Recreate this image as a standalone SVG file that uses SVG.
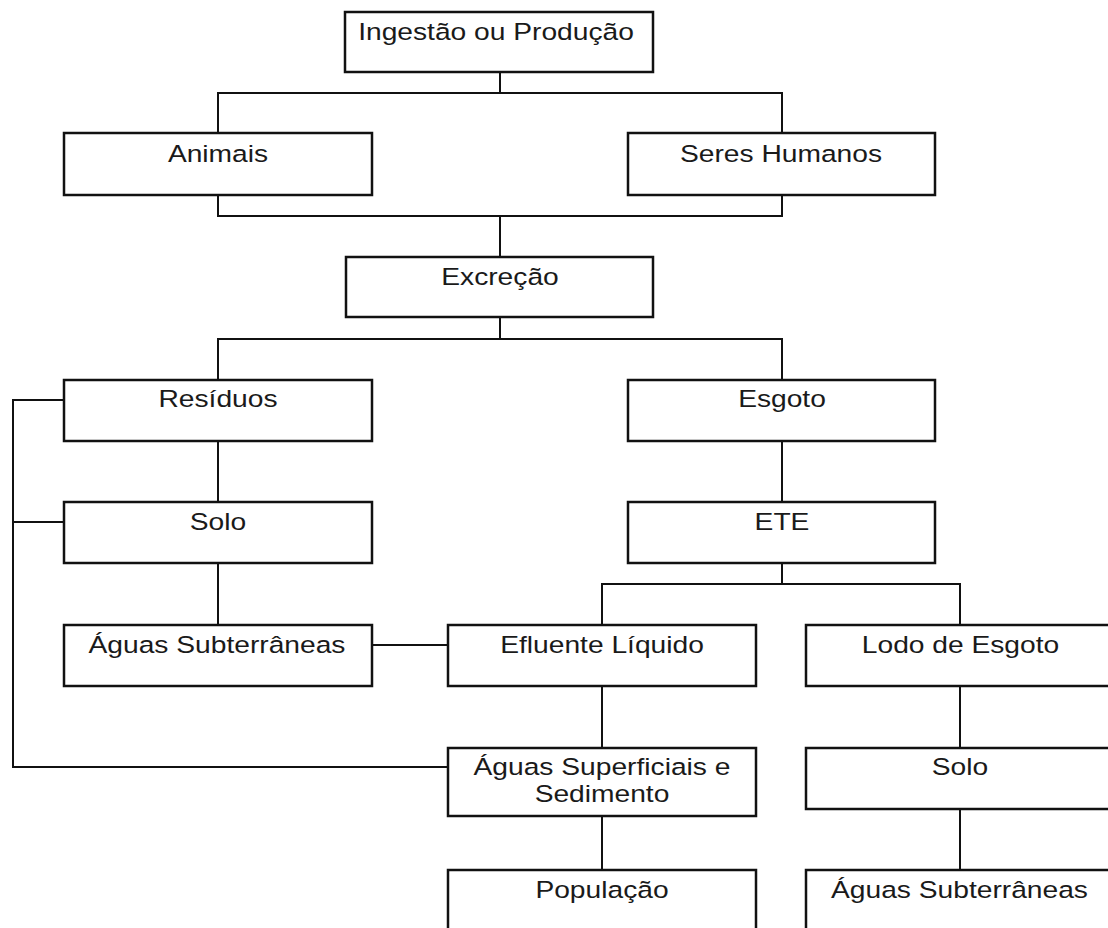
<svg xmlns="http://www.w3.org/2000/svg" width="1108" height="928" viewBox="0 0 1108 928">
<style>
.box{fill:#fff;stroke:#111;stroke-width:2.5}
.lbl{font-family:"Liberation Sans",Arial,sans-serif;font-size:23.5px;fill:#1a1a1a;text-anchor:middle}
.con{fill:none;stroke:#111;stroke-width:2;stroke-linecap:square}
</style>
<rect width="1108" height="928" fill="#fff"/>
<g id="connectors">
<path class="con" d="M500,72V93M218,93H782M218,93V133M782,93V133"/>
<path class="con" d="M218,195V216M782,195V216M218,216H782M500,216V257"/>
<path class="con" d="M500,317V339M218,339H782M218,339V380M782,339V380"/>
<path class="con" d="M218,441V502M218,563V625"/>
<path class="con" d="M782,441V502M782,563V584M602,584H960M602,584V625M960,584V625"/>
<path class="con" d="M372,645H448"/>
<path class="con" d="M64,400H13V767H448M13,522H64"/>
<path class="con" d="M602,686V748M602,816V870"/>
<path class="con" d="M960,686V748M960,809V870"/>
</g>
<g id="n-ingestao"><rect class="box" x="345" y="12" width="308" height="60"/><text class="lbl" transform="matrix(1.2 0 0 1 496 40)">Ingestão ou Produção</text></g>
<g id="n-animais"><rect class="box" x="64" y="133" width="308" height="62"/><text class="lbl" transform="matrix(1.2 0 0 1 218 161.5)">Animais</text></g>
<g id="n-seres"><rect class="box" x="628" y="133" width="307" height="62"/><text class="lbl" transform="matrix(1.2 0 0 1 781 161.5)">Seres Humanos</text></g>
<g id="n-excrecao"><rect class="box" x="346" y="257" width="307" height="60"/><text class="lbl" transform="matrix(1.2 0 0 1 500 285)">Excreção</text></g>
<g id="n-residuos"><rect class="box" x="64" y="380" width="308" height="61"/><text class="lbl" transform="matrix(1.2 0 0 1 218 407)">Resíduos</text></g>
<g id="n-esgoto"><rect class="box" x="628" y="380" width="307" height="61"/><text class="lbl" transform="matrix(1.2 0 0 1 782 407)">Esgoto</text></g>
<g id="n-solo1"><rect class="box" x="64" y="502" width="308" height="61"/><text class="lbl" transform="matrix(1.2 0 0 1 218 530)">Solo</text></g>
<g id="n-ete"><rect class="box" x="628" y="502" width="307" height="61"/><text class="lbl" transform="matrix(1.2 0 0 1 782 530)">ETE</text></g>
<g id="n-aguassub1"><rect class="box" x="64" y="625" width="308" height="61"/><text class="lbl" transform="matrix(1.2 0 0 1 217 652.5)">Águas Subterrâneas</text></g>
<g id="n-efluente"><rect class="box" x="448" y="625" width="308" height="61"/><text class="lbl" transform="matrix(1.2 0 0 1 602 652.5)">Efluente Líquido</text></g>
<g id="n-lodo"><rect class="box" x="806" y="625" width="310" height="61"/><text class="lbl" transform="matrix(1.2 0 0 1 960.5 652.5)">Lodo de Esgoto</text></g>
<g id="n-aguassup"><rect class="box" x="448" y="748" width="308" height="68"/><text class="lbl" transform="matrix(1.2 0 0 1 602 775)">Águas Superficiais e</text><text class="lbl" transform="matrix(1.2 0 0 1 602 801.5)">Sedimento</text></g>
<g id="n-solo2"><rect class="box" x="806" y="748" width="310" height="61"/><text class="lbl" transform="matrix(1.2 0 0 1 960 775)">Solo</text></g>
<g id="n-populacao"><rect class="box" x="448" y="870" width="308" height="64"/><text class="lbl" transform="matrix(1.2 0 0 1 602 898)">População</text></g>
<g id="n-aguassub2"><rect class="box" x="806" y="870" width="310" height="64"/><text class="lbl" transform="matrix(1.2 0 0 1 959.5 898)">Águas Subterrâneas</text></g>
</svg>
